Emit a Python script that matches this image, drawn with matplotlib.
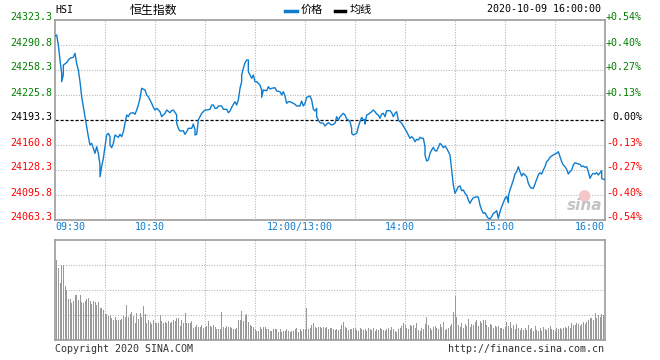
import numpy as np
import matplotlib.pyplot as plt
from matplotlib.lines import Line2D
from matplotlib import transforms

# HSI intraday, 2020-10-09 (minutes of trading since 09:30, lunch removed)

prev_close = 24193.3
price_ticks = [24063.3, 24095.8, 24128.3, 24160.8, 24193.3, 24225.8, 24258.3, 24290.8, 24323.3]
pct_labels = ['-0.54%', '-0.40%', '-0.27%', '-0.13%', '0.00%', '+0.13%', '+0.27%', '+0.40%', '+0.54%']
time_ticks = [0, 60, 150, 210, 270, 330]
time_labels = ['09:30', '10:30', '12:00/13:00', '14:00', '15:00', '16:00']
grid_minutes = list(range(30, 330, 30))

morning = [(0, 24302.5), (1, 24303.8), (2, 24290.8), (3, 24271.3), (4, 24254.0), (4, 24243.1), (5, 24251.8),
           (5, 24264.8), (7, 24267.8), (8, 24271.3), (9, 24273.5), (11, 24274.8), (12, 24280.0), (13, 24267.0),
           (14, 24258.3), (15, 24243.1), (16, 24223.6), (17, 24210.6), (18, 24197.6), (19, 24184.6), (20, 24171.6),
           (21, 24160.8), (22, 24163.0), (23, 24156.5), (24, 24150.0), (25, 24158.6), (26, 24150.0), (27, 24134.8),
           (27, 24119.6), (28, 24132.6), (29, 24143.5), (30, 24158.6), (31, 24173.8), (32, 24176.0), (33, 24171.6),
           (33, 24160.8), (34, 24157.3), (35, 24163.0), (36, 24173.8), (38, 24170.8), (39, 24174.7), (40, 24171.6),
           (41, 24178.1), (42, 24189.0), (43, 24199.8), (44, 24197.6), (45, 24202.0), (47, 24202.8), (48, 24200.7),
           (49, 24206.3), (50, 24212.8), (51, 24221.5), (52, 24234.5), (54, 24232.3), (55, 24225.8), (56, 24223.6),
           (58, 24215.0), (59, 24209.8), (60, 24206.3), (61, 24208.5), (62, 24206.3), (63, 24204.1), (64, 24197.6),
           (66, 24202.0), (67, 24206.3), (69, 24202.8), (70, 24205.4), (71, 24206.3), (73, 24199.8), (73, 24189.0),
           (74, 24182.5), (75, 24179.0), (77, 24179.4), (78, 24174.7), (79, 24178.1), (80, 24182.5), (82, 24182.5),
           (83, 24188.1), (84, 24180.3), (84, 24173.8), (85, 24174.7), (86, 24193.3), (87, 24197.6), (88, 24202.0),
           (90, 24206.3), (91, 24206.3), (93, 24207.2), (94, 24212.8), (95, 24212.8), (96, 24208.5), (97, 24208.5),
           (98, 24211.5), (100, 24211.5), (101, 24207.2), (103, 24207.2), (104, 24202.8), (105, 24205.0),
           (106, 24209.8), (108, 24217.1), (109, 24212.8), (110, 24219.3), (111, 24234.5), (112, 24243.1),
           (112, 24251.8), (113, 24260.5), (114, 24267.8), (115, 24271.3), (116, 24271.3), (116, 24256.1),
           (117, 24251.8), (118, 24247.5), (119, 24251.8), (120, 24243.1), (121, 24243.1), (123, 24238.8),
           (124, 24232.3), (124, 24222.8), (125, 24232.3), (127, 24231.4), (128, 24236.6), (129, 24233.6),
           (130, 24234.5), (132, 24235.3), (133, 24231.0), (135, 24230.1), (136, 24225.8), (137, 24230.1),
           (138, 24224.5), (139, 24215.0), (140, 24217.1), (141, 24217.1), (143, 24215.0), (144, 24213.7),
           (145, 24211.5), (147, 24211.5), (148, 24218.0), (149, 24211.5), (150, 24215.0)]

afternoon = [(151, 24222.8), (152, 24223.6), (153, 24224.5), (154, 24219.3), (155, 24207.2), (156, 24205.0),
             (157, 24208.5), (157, 24197.6), (158, 24193.3), (159, 24189.8), (161, 24189.0), (162, 24185.5),
             (164, 24189.8), (166, 24186.8), (167, 24187.7), (168, 24189.0), (169, 24197.6), (170, 24193.3),
             (171, 24197.6), (173, 24202.0), (174, 24199.8), (175, 24194.6), (176, 24193.3), (177, 24191.1),
             (178, 24182.5), (178, 24176.0), (179, 24173.8), (181, 24176.0), (182, 24184.6), (183, 24191.1),
             (184, 24196.8), (185, 24193.3), (186, 24194.2), (186, 24188.1), (187, 24199.8), (188, 24200.7),
             (190, 24204.1), (191, 24206.3), (192, 24204.1), (193, 24201.1), (194, 24199.8), (195, 24195.5),
             (196, 24201.1), (197, 24202.0), (198, 24197.6), (199, 24205.4), (201, 24205.4), (202, 24202.8),
             (203, 24197.6), (204, 24202.0), (205, 24204.1), (206, 24193.3), (207, 24191.1), (208, 24189.0),
             (209, 24185.5), (211, 24178.1), (212, 24173.8), (213, 24169.5), (214, 24171.6), (215, 24169.5),
             (216, 24165.1), (217, 24168.2), (218, 24167.3), (219, 24170.8), (220, 24169.5), (221, 24169.5),
             (222, 24158.6), (222, 24147.8), (223, 24140.0), (224, 24141.3), (225, 24150.0), (226, 24154.3),
             (227, 24157.8), (228, 24153.4), (229, 24153.0), (230, 24157.8), (231, 24163.0), (232, 24160.8),
             (233, 24157.3), (234, 24159.5), (235, 24156.5), (236, 24152.1), (237, 24147.8), (238, 24128.3),
             (239, 24108.8), (240, 24098.0), (241, 24102.3), (242, 24106.6), (243, 24107.5), (244, 24101.4),
             (245, 24102.3), (246, 24098.0), (247, 24095.8), (248, 24089.3), (249, 24085.0), (250, 24089.3),
             (251, 24092.3), (253, 24093.6), (254, 24092.8), (255, 24082.8), (256, 24076.3), (257, 24072.0),
             (258, 24072.8), (259, 24068.5), (260, 24065.5), (261, 24064.6), (262, 24067.6), (263, 24072.0),
             (264, 24073.3), (265, 24075.4), (266, 24065.5), (267, 24074.1), (268, 24080.6), (269, 24085.8),
             (270, 24091.5), (271, 24093.6), (272, 24085.8), (272, 24094.5), (273, 24102.3), (274, 24108.8),
             (275, 24115.3), (276, 24123.1), (277, 24126.1), (278, 24132.6), (279, 24126.1), (280, 24120.5),
             (281, 24124.0), (282, 24121.8), (283, 24119.6), (284, 24111.0), (285, 24106.6), (286, 24104.5),
             (287, 24104.5), (288, 24110.1), (289, 24116.2), (290, 24121.8), (291, 24124.8), (292, 24123.1),
             (293, 24128.3), (294, 24132.6), (295, 24139.1), (296, 24141.3), (297, 24144.8), (298, 24146.5),
             (299, 24147.8), (300, 24149.1), (301, 24150.0), (302, 24152.1), (303, 24145.6), (304, 24139.1),
             (305, 24134.8), (306, 24132.6), (307, 24129.2), (308, 24123.1), (309, 24126.1), (310, 24128.3),
             (311, 24134.8), (312, 24137.8), (313, 24137.0), (314, 24136.1), (315, 24135.7), (316, 24132.6),
             (317, 24133.5), (318, 24131.8), (319, 24132.6), (320, 24126.1), (321, 24117.5), (322, 24121.8),
             (323, 24124.0), (324, 24123.1), (325, 24124.8), (326, 24121.8), (328, 24127.4), (328, 24117.5),
             (329, 24116.2), (330, 24116.0)]

# volume per minute (relative units, axis unlabeled), 30 bars per half hour
vol_0930 = [80, 72, 57, 75, 75, 54, 50, 41, 41, 37, 39, 45, 45, 40, 45, 38, 37, 39, 41, 42, 39, 36, 39, 38, 35, 38, 32, 32, 30, 26]
vol_1000 = [26, 24, 25, 22, 20, 23, 20, 20, 20, 21, 24, 23, 35, 23, 26, 28, 24, 17, 27, 21, 27, 23, 34, 26, 17, 20, 18, 16, 20, 17]
vol_1030 = [17, 17, 25, 19, 17, 18, 17, 19, 17, 18, 20, 19, 22, 22, 14, 20, 17, 27, 17, 17, 17, 19, 12, 13, 15, 13, 13, 15, 12, 13]
vol_1100 = [14, 19, 14, 13, 15, 13, 11, 11, 11, 28, 13, 12, 14, 13, 13, 12, 11, 11, 12, 20, 20, 29, 19, 25, 26, 18, 15, 14, 13, 11]
vol_1130 = [9, 9, 13, 11, 13, 13, 11, 11, 9, 9, 11, 11, 11, 8, 11, 8, 9, 9, 11, 9, 8, 9, 9, 11, 12, 8, 11, 9, 11, 11]
vol_1300 = [32, 11, 12, 15, 17, 13, 12, 13, 13, 12, 13, 12, 13, 11, 12, 12, 11, 10, 11, 10, 11, 15, 18, 13, 12, 10, 11, 11, 12, 12]
vol_1330 = [10, 9, 12, 11, 10, 11, 9, 12, 11, 10, 12, 9, 11, 10, 12, 11, 10, 9, 11, 12, 10, 13, 11, 9, 8, 11, 12, 14, 17, 15]
vol_1400 = [12, 11, 15, 14, 15, 12, 17, 10, 9, 12, 11, 16, 23, 15, 12, 10, 13, 14, 12, 11, 16, 13, 18, 10, 11, 12, 14, 16, 28, 44]
vol_1430 = [23, 15, 13, 17, 12, 16, 14, 21, 13, 16, 15, 18, 20, 14, 19, 17, 20, 20, 15, 13, 16, 15, 12, 14, 13, 14, 12, 12, 11, 13]
vol_1500 = [18, 14, 18, 12, 15, 11, 16, 12, 10, 12, 10, 12, 10, 15, 11, 12, 9, 14, 10, 9, 12, 9, 13, 11, 10, 12, 14, 11, 10, 9]
vol_1530 = [12, 11, 12, 11, 12, 13, 12, 14, 12, 17, 15, 15, 17, 16, 14, 16, 18, 16, 18, 20, 22, 22, 20, 27, 22, 25, 23, 26, 25, 27]

volume = (vol_0930 + vol_1000 + vol_1030 + vol_1100 + vol_1130 + vol_1300
          + vol_1330 + vol_1400 + vol_1430 + vol_1500 + vol_1530)
vol_minutes = np.arange(1, len(volume) + 1)

t_min = [p[0] for p in morning + afternoon]
price = [p[1] for p in morning + afternoon]

# colours / fonts
line_blue = '#0f7dcf'
grid_col = '#b4b4b4'
frame_col = '#9c9c9c'
green = '#008000'
red = '#ff0000'
mono = 'DejaVu Sans Mono'
cjk = ['Noto Sans CJK SC', 'DejaVu Sans']
fs = 7.2

fig = plt.figure(figsize=(6.6, 3.6), dpi=100)
ax = fig.add_axes([55 / 660, 1 - 220 / 360, 550 / 660, 200 / 360])
axv = fig.add_axes([55 / 660, 1 - 340 / 360, 550 / 660, 100 / 360])

for a in (ax, axv):
    a.set_xlim(0, 330)
    a.set_xticks([])
    a.set_yticks([])
    for s in a.spines.values():
        s.set_color(frame_col)
        s.set_linewidth(1.2)
    for m in grid_minutes:
        a.axvline(m, color=grid_col, lw=0.75, ls=(0, (1, 1.5)), zorder=0)

# price panel
ax.set_ylim(price_ticks[0], price_ticks[-1])
for p in price_ticks[1:-1]:
    if p == prev_close:
        ax.axhline(p, color='black', lw=0.9, ls=(0, (2.5, 1.5)), zorder=1)
    else:
        ax.axhline(p, color=grid_col, lw=0.75, ls=(0, (1, 1.5)), zorder=0)
ax.plot(t_min, price, color=line_blue, lw=1.0, zorder=3)

left_tr = transforms.offset_copy(ax.get_yaxis_transform(), fig=fig, x=-3, y=2.5, units='dots')
right_tr = transforms.offset_copy(ax.get_yaxis_transform(), fig=fig, x=37, y=2.5, units='dots')
for p, lab in zip(price_ticks, pct_labels):
    col = 'black' if p == prev_close else (green if p > prev_close else red)
    ax.text(0, p, f'{p:.1f}', transform=left_tr, ha='right', va='center',
            fontsize=fs, family=mono, color=col)
    ax.text(1, p, lab, transform=right_tr, ha='right', va='center',
            fontsize=fs, family=mono, color=col)

time_tr = transforms.offset_copy(ax.get_xaxis_transform(), fig=fig, x=-5.5, y=-7, units='dots')
edge_tr = transforms.offset_copy(ax.get_xaxis_transform(), fig=fig, x=0, y=-7, units='dots')
for i, (m, lab) in enumerate(zip(time_ticks, time_labels)):
    if i == 0:
        ax.text(m, 0, lab, transform=edge_tr, ha='left', va='center', fontsize=fs, family=mono, color=line_blue)
    elif i == len(time_ticks) - 1:
        ax.text(m, 0, lab, transform=edge_tr, ha='right', va='center', fontsize=fs, family=mono, color=line_blue)
    else:
        ax.text(m, 0, lab, transform=time_tr, ha='center', va='center', fontsize=fs, family=mono, color=line_blue)

# sina watermark
ax.scatter([0.963], [0.12], s=70, transform=ax.transAxes, color='#f7c6c6', edgecolors='none', zorder=2)
ax.text(0.962, 0.075, 'sina', transform=ax.transAxes, ha='center', va='center', fontsize=11,
        fontweight='bold', style='italic', color='#c4c4c4', family='DejaVu Sans', zorder=2)

# volume panel
axv.set_ylim(0, 100)
for v in (25, 50, 75):
    axv.axhline(v, color=grid_col, lw=0.75, ls=(0, (1, 1.5)), zorder=0)
axv.bar(vol_minutes, volume, width=0.6, color='#999999', zorder=2)

# header
fig.text(55 / 660, 1 - 10 / 360, 'HSI', fontsize=fs, family=mono, va='center', ha='left')
fig.text(130 / 660, 1 - 10 / 360, '恒生指数', fontsize=8.6, family=cjk, va='center', ha='left')
fig.add_artist(Line2D([285 / 660, 297 / 660], [1 - 11 / 360] * 2, color=line_blue, lw=2.5))
fig.text(301 / 660, 1 - 10 / 360, '价格', fontsize=8.0, family=cjk, va='center', ha='left')
fig.add_artist(Line2D([335 / 660, 345 / 660], [1 - 11 / 360] * 2, color='black', lw=2.5))
fig.text(350 / 660, 1 - 10 / 360, '均线', fontsize=8.0, family=cjk, va='center', ha='left')
fig.text(601 / 660, 1 - 9 / 360, '2020-10-09 16:00:00', fontsize=fs, family=mono, va='center', ha='right')

# footer
fig.text(55 / 660, 1 - 349 / 360, 'Copyright 2020 SINA.COM', fontsize=fs, family=mono, va='center',
         ha='left', color='#333333')
fig.text(604 / 660, 1 - 349 / 360, 'http://finance.sina.com.cn', fontsize=fs, family=mono, va='center',
         ha='right', color='#333333')

fig.savefig('out.png', dpi=100, facecolor='white')
